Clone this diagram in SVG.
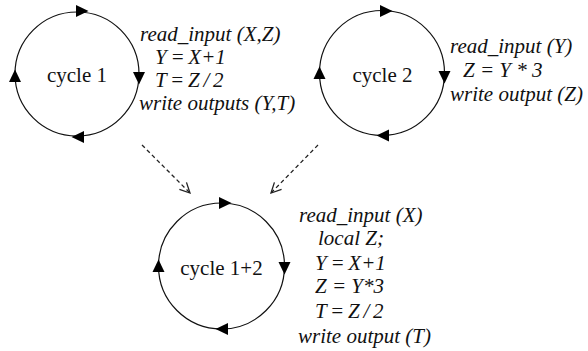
<svg xmlns="http://www.w3.org/2000/svg" xmlns:xlink="http://www.w3.org/1999/xlink" width="588" height="351" viewBox="0 0 588 351">
<style>
.ring{fill:none;stroke:#111;stroke-width:1.2}
.ah{fill:#000}
text{font-family:'Liberation Serif','Times New Roman',serif;font-size:21px;fill:#111}
.lbl{text-anchor:middle}
.code{font-style:italic}
.tight{word-spacing:-1.5px}
.dash{fill:none;stroke:#222;stroke-width:1.3;stroke-dasharray:4 3}
</style>
<defs>
<path id="tri" d="M6.5,0 L-6,-6 L-6,6 Z"/>
<marker id="open" viewBox="0 0 12 12" refX="11" refY="6" markerWidth="12" markerHeight="12" markerUnits="userSpaceOnUse" orient="auto">
<path d="M1,1 L11,6 L1,11" fill="none" stroke="#222" stroke-width="1.3"/>
</marker>
</defs>
<rect width="588" height="351" fill="#fff"/>
<g id="cycle1">
<circle class="ring" cx="77" cy="74" r="62"/>
<use class="ah" href="#tri" transform="translate(82,11)"/>
<use class="ah" href="#tri" transform="translate(139,78) rotate(90)"/>
<use class="ah" href="#tri" transform="translate(78,137) rotate(180)"/>
<use class="ah" href="#tri" transform="translate(15,76) rotate(270)"/>
<text class="lbl" x="77" y="82">cycle 1</text>
<text class="code" x="140" y="41">read_input (X,Z)</text>
<text class="code tight" x="155" y="64">Y = X+1</text>
<text class="code tight" x="155" y="87">T = Z / 2</text>
<text class="code" x="139" y="110">write outputs (Y,T)</text>
</g>
<g id="cycle2">
<circle class="ring" cx="382" cy="73" r="62.5"/>
<use class="ah" href="#tri" transform="translate(386,11)"/>
<use class="ah" href="#tri" transform="translate(444.5,77) rotate(90)"/>
<use class="ah" href="#tri" transform="translate(383,135.5) rotate(180)"/>
<use class="ah" href="#tri" transform="translate(319.5,73) rotate(270)"/>
<text class="lbl" x="382.5" y="82">cycle 2</text>
<text class="code" x="450" y="53">read_input (Y)</text>
<text class="code" x="463" y="77">Z = Y * 3</text>
<text class="code" x="450" y="101">write output (Z)</text>
</g>
<g id="cycle12">
<circle class="ring" cx="221.5" cy="266" r="63"/>
<use class="ah" href="#tri" transform="translate(225,203)"/>
<use class="ah" href="#tri" transform="translate(284.5,268) rotate(90)"/>
<use class="ah" href="#tri" transform="translate(222,329) rotate(180)"/>
<use class="ah" href="#tri" transform="translate(158.5,266) rotate(270)"/>
<text class="lbl" x="221.5" y="275">cycle 1+2</text>
<text class="code" x="299" y="222">read_input (X)</text>
<text class="code" x="318" y="245">local Z;</text>
<text class="code tight" x="315" y="270">Y = X+1</text>
<text class="code" x="315" y="293">Z = Y*3</text>
<text class="code tight" x="315" y="318">T = Z / 2</text>
<text class="code" x="298" y="343">write output (T)</text>
</g>
<g id="connectors">
<path class="dash" d="M142,145 L190,193" marker-end="url(#open)"/>
<path class="dash" d="M318,145 L271,193" marker-end="url(#open)"/>
</g>
</svg>
